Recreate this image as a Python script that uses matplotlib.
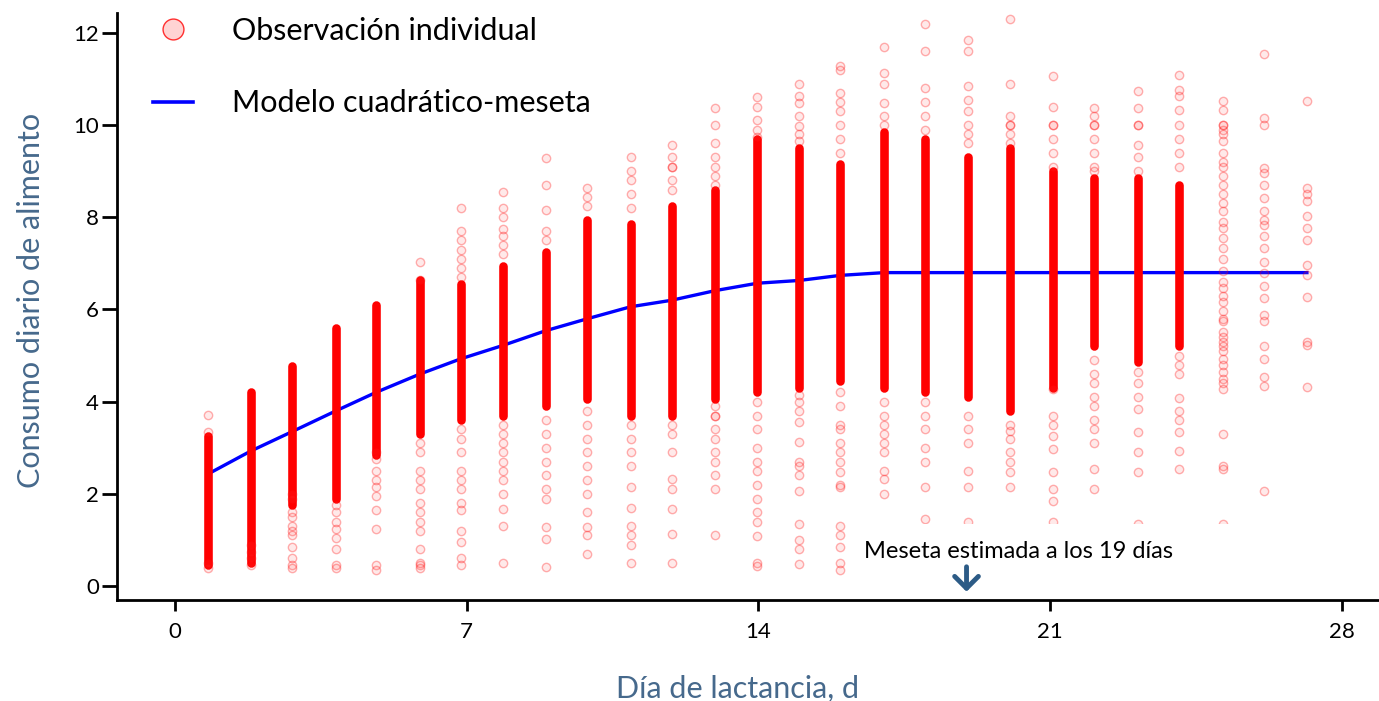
import numpy as np
import matplotlib.pyplot as plt
from matplotlib.lines import Line2D
from matplotlib.patches import Rectangle

plt.rcParams['font.family'] = ['Lato', 'DejaVu Sans']

# posicion de cada columna en el eje x (dia de lactancia)
dia = [0.79, 1.82, 2.81, 3.86, 4.82, 5.88, 6.86, 7.87, 8.9, 9.9, 10.94, 11.92, 12.97, 13.98,
       14.99, 15.97, 17.03, 18.01, 19.04, 20.05, 21.08, 22.06, 23.12, 24.1, 25.16, 26.14, 27.17]

# tramo denso de observaciones por dia (min, max); nan = sin tramo denso
nucleo_min = [0.45, 0.5, 1.75, 1.9, 2.85, 3.3, 3.6, 3.7, 3.9, 4.05, 3.7, 3.7, 4.05, 4.2,
              4.3, 4.45, 4.3, 4.2, 4.1, 3.8, 4.3, 5.2, 4.87, 5.2, np.nan, np.nan, np.nan]
nucleo_max = [3.25, 4.2, 4.78, 5.6, 6.1, 6.65, 6.55, 6.95, 7.25, 7.95, 7.85, 8.25, 8.6, 9.7,
              9.5, 9.15, 9.85, 9.7, 9.3, 9.5, 9.0, 8.85, 8.85, 8.7, np.nan, np.nan, np.nan]

# observaciones sueltas fuera del tramo denso
obs_sueltas = [
    [3.72, 3.35, 0.4, 0.5],
    [0.45, 0.6, 0.75, 0.9],
    [2.0, 1.9, 1.6, 1.5, 1.3, 1.2, 1.1, 0.85, 0.6, 0.45, 0.4],
    [1.75, 1.6, 1.4, 1.25, 1.05, 0.8, 0.45, 0.4],
    [2.9, 2.75, 2.5, 2.3, 2.15, 1.95, 1.65, 1.25, 0.45, 0.35],
    [7.02, 6.65, 3.1, 2.9, 2.5, 2.3, 2.1, 1.8, 1.6, 1.4, 1.2, 0.8, 0.5, 0.45, 0.4],
    [8.2, 7.7, 7.5, 7.3, 7.1, 6.9, 6.7, 3.4, 3.2, 2.9, 2.5, 2.3, 2.1, 1.8, 1.65, 1.2, 0.95, 0.6, 0.45],
    [8.55, 8.2, 8.0, 7.75, 7.6, 7.4, 7.2, 3.5, 3.3, 3.1, 2.9, 2.7, 2.5, 2.3, 2.0, 1.67, 1.3, 0.5],
    [9.28, 8.7, 8.15, 7.7, 7.5, 3.6, 3.3, 3.0, 2.7, 2.4, 2.1, 1.9, 1.28, 1.02, 0.42],
    [8.63, 8.45, 8.25, 3.8, 3.5, 3.2, 2.9, 2.6, 2.3, 2.0, 1.6, 1.28, 1.1, 0.7],
    [9.3, 9.0, 8.8, 8.5, 8.2, 3.5, 3.2, 2.9, 2.6, 2.15, 1.7, 1.3, 1.1, 0.9, 0.5],
    [9.56, 9.3, 9.1, 9.1, 8.8, 8.6, 3.5, 3.3, 2.9, 2.33, 2.1, 1.67, 1.13, 0.5],
    [10.37, 10.0, 9.6, 9.3, 9.1, 8.9, 8.7, 3.9, 3.7, 3.7, 3.4, 3.2, 2.9, 2.7, 2.4, 2.1, 1.1],
    [10.6, 10.4, 10.1, 9.9, 9.75, 4.0, 3.7, 3.4, 3.0, 2.7, 2.5, 2.2, 1.9, 1.6, 1.4, 1.08, 0.5, 0.43],
    [10.9, 10.63, 10.48, 10.2, 9.98, 9.8, 9.65, 4.15, 4.0, 3.8, 3.56, 3.13, 2.7, 2.6, 2.4, 2.07,
     1.35, 1.0, 0.8, 0.48],
    [11.28, 11.2, 10.7, 10.5, 10.3, 10.0, 9.7, 9.4, 4.2, 3.9, 3.5, 3.4, 3.1, 2.9, 2.7, 2.47, 2.2,
     2.15, 1.3, 1.1, 0.85, 0.5, 0.35],
    [11.7, 11.13, 10.9, 10.48, 10.2, 10.0, 4.0, 3.7, 3.5, 3.3, 3.1, 2.9, 2.5, 2.33, 2.0],
    [12.2, 11.6, 10.8, 10.5, 10.2, 9.9, 4.0, 3.7, 3.4, 3.0, 2.7, 2.15, 1.45],
    [11.85, 11.6, 10.85, 10.55, 10.3, 10.0, 9.8, 9.6, 3.7, 3.4, 3.1, 2.5, 2.15, 1.4],
    [12.3, 10.9, 10.2, 10.0, 10.0, 9.8, 9.6, 3.5, 3.37, 3.2, 2.9, 2.7, 2.47, 2.15],
    [11.07, 10.4, 10.0, 10.0, 9.7, 9.4, 9.1, 4.28, 3.7, 3.5, 3.26, 2.98, 2.47, 2.1, 1.85, 1.4],
    [10.37, 10.2, 10.0, 10.0, 9.7, 9.4, 9.1, 9.0, 4.9, 4.6, 4.4, 4.1, 3.9, 3.6, 3.4, 3.1, 2.54, 2.1],
    [10.74, 10.37, 10.0, 10.0, 9.57, 9.3, 9.0, 4.65, 4.4, 4.1, 3.85, 3.35, 2.9, 2.47, 1.35],
    [11.09, 10.76, 10.63, 10.33, 10.0, 9.7, 9.4, 9.1, 5.0, 4.8, 4.6, 4.07, 3.8, 3.6, 3.35, 2.93, 2.54],
    [10.52, 10.33, 10.0, 10.0, 9.9, 9.8, 9.65, 9.39, 9.2, 9.1, 8.9, 8.7, 8.5, 8.3, 8.13, 7.9, 7.76,
     7.54, 7.33, 7.1, 6.83, 6.6, 6.46, 6.3, 6.17, 5.96, 5.8, 5.74, 5.52, 5.4, 5.3, 5.2, 5.09, 4.93,
     4.8, 4.65, 4.5, 4.4, 4.28, 3.3, 2.6, 2.55, 1.35],
    [11.54, 10.15, 10.0, 9.07, 8.95, 8.7, 8.41, 8.13, 7.95, 7.83, 7.6, 7.33, 7.04, 6.8, 6.52, 6.24,
     5.87, 5.74, 5.2, 4.93, 4.54, 4.35, 2.07],
    [10.52, 8.63, 8.5, 8.35, 8.02, 7.76, 7.5, 6.96, 6.74, 6.28, 5.3, 5.22, 4.33],
]

# modelo cuadratico-meseta ajustado
modelo = [2.43, 2.93, 3.35, 3.8, 4.2, 4.6, 4.93, 5.22, 5.54, 5.8, 6.06, 6.2, 6.41, 6.57,
          6.63, 6.74, 6.8, 6.8, 6.8, 6.8, 6.8, 6.8, 6.8, 6.8, 6.8, 6.8, 6.8]

dia_meseta = 19

rojo_borde = (1, 0, 0, 0.3)
rojo_relleno = (1, 0.3, 0.3, 0.12)
azul_texto = '#46698c'

fig = plt.figure(figsize=(13.79, 7.01), dpi=100)
ax = fig.add_axes([117 / 1379, 1 - 600 / 701, 1 - 117 / 1379, (600 - 13) / 701])

ax.plot(dia, modelo, color='#0000ff', lw=2.4, zorder=1)

for x, lo, hi, vals in zip(dia, nucleo_min, nucleo_max, obs_sueltas):
    if not np.isnan(lo):
        ax.plot([x, x], [lo, hi], color='red', lw=6.2, solid_capstyle='round', zorder=2)
    ax.scatter([x] * len(vals), vals, s=36, facecolor=rojo_relleno, edgecolor=rojo_borde,
               lw=1.0, zorder=2)

# recuadro blanco de la anotacion
ax.add_patch(Rectangle((16.6, -0.2), 9.0, 1.55, facecolor='white', edgecolor='none', zorder=3))
ax.text(20.25, 0.76, 'Meseta estimada a los 19 días', fontsize=17, ha='center', va='center',
        zorder=4)
ax.annotate('', xy=(dia_meseta, -0.12), xytext=(dia_meseta, 0.42),
            arrowprops=dict(arrowstyle='->,head_width=0.45,head_length=0.45', lw=3.5,
                            color='#2c5b86', mutation_scale=19, shrinkA=0, shrinkB=0),
            zorder=4)

ax.set_xlim(-1.39, 28.9)
ax.set_ylim(-0.3, 12.43)
ax.set_xticks([0, 7, 14, 21, 28])
ax.set_yticks([0, 2, 4, 6, 8, 10, 12])
ax.tick_params(axis='y', length=11, width=2, labelsize=16, pad=2)
ax.tick_params(axis='x', length=8, width=2, labelsize=16, pad=8)
for s in ['top', 'right']:
    ax.spines[s].set_visible(False)
for s in ['left', 'bottom']:
    ax.spines[s].set_linewidth(2)
    ax.spines[s].set_zorder(5)

ax.set_ylabel('Consumo diario de alimento', fontsize=22, color=azul_texto)
ax.yaxis.set_label_coords(-0.057, 0.511)
ax.set_xlabel('Día de lactancia, d', fontsize=22, color=azul_texto)
ax.xaxis.set_label_coords(0.492, -0.128)

handles = [
    Line2D([], [], ls='none', marker='o', markersize=15, markerfacecolor='#ffd3d3',
           markeredgecolor='#ff3030', markeredgewidth=1),
    Line2D([], [], color='#0000ff', lw=2.6),
]
ax.legend(handles, ['Observación individual', 'Modelo cuadrático-meseta'], loc='upper left',
          bbox_to_anchor=(153 / 1379, 1 - 17 / 701), bbox_transform=fig.transFigure,
          frameon=False, fontsize=22, handlelength=1.3, handletextpad=1.3, labelspacing=1.45,
          borderpad=0, borderaxespad=0)

fig.savefig('out.png', dpi=100)
